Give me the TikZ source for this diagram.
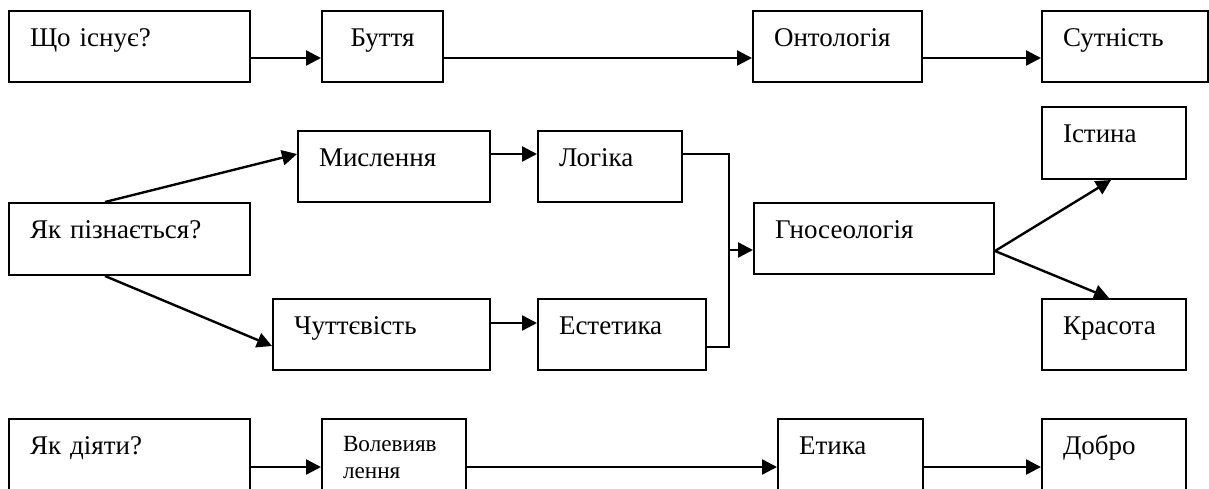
\documentclass[tikz,border=0pt]{standalone}
\usepackage{fontspec}
\setmainfont{Liberation Serif}
\usepackage{tikz}
\usetikzlibrary{arrows.meta,calc}
\usetikzlibrary{positioning}
\tikzstyle{box} = [rectangle, draw=black, line width=1pt, anchor=north west, inner xsep=10.5pt, inner ysep=0pt, text height=17.5pt, text depth=18pt, align=left, font=\fontsize{13.5}{13.5}\selectfont]
\tikzstyle{arr} = [line width=1.2pt, -{Triangle[length=7.5pt,width=7.5pt]}]
\tikzstyle{conn} = [line width=1pt]

\begin{document}
\begin{tikzpicture}[x=0.5pt, y=-0.5pt]
 \useasboundingbox (0,0) rectangle (1209,488);

 \node (q1) [box, text width=99.5pt] at (8,10) {Що існує?};
 \node (bt) [box, text width=39.5pt, align=center] at (321,10) {Буття};
 \node (ont) [box, text width=63.5pt] at (752,10) {Онтологія};
 \node (sut) [box, text width=62pt] at (1041,10) {Сутність};

 \node (q2) [box, text width=99.5pt, text depth=18.5pt] at (8,202) {Як пізнається?};
 \node (mysl) [box, text width=75pt] at (297,130) {Мислення};
 \node (log) [box, text width=51pt] at (537,130) {Логіка};
 \node (chut) [box, text width=87.5pt] at (272,298) {Чуттєвість};
 \node (est) [box, text width=63pt] at (537,298) {Естетика};
 \node (gnos) [box, text width=99pt] at (753,202) {Гносеологія};
 \node (ist) [box, text width=51pt, text depth=18.5pt] at (1041,106) {Істина};
 \node (kras) [box, text width=51pt] at (1041,298) {Красота};

 \node (q3) [box, text width=99.5pt] at (8,418) {Як діяти?};
 \node (vol) [box, text width=51pt, text height=16pt, text depth=19.5pt, font=\fontsize{11.6}{13.5}\selectfont] at (321,418) {Волевияв\\лення};
 \node (et) [box, text width=51.5pt] at (777,418) {Етика};
 \node (dob) [box, text width=51pt] at (1041,418) {Добро};

 \coordinate (jn) at (729,250);

 \draw[arr] ($(q1.east)+(0,11.5)$) -- ($(bt.west)+(0,11.5)$);
 \draw[arr] ($(bt.east)+(0,11.5)$) -- ($(ont.west)+(0,11.5)$);
 \draw[arr] ($(ont.east)+(0,11.5)$) -- ($(sut.west)+(0,11.5)$);

 \draw[arr] ($(q2.north west)+(97,0)$) -- ($(mysl.west)+(0,-12.5)$);
 \draw[arr] ($(q2.south west)+(97,0)$) -- ($(chut.west)+(0,11.5)$);
 \draw[arr] ($(mysl.east)+(0,-12.5)$) -- ($(log.west)+(0,-12.5)$);
 \draw[arr] ($(chut.east)+(0,-11.5)$) -- ($(est.west)+(0,-11.5)$);
 \draw[conn] ($(log.east)+(0,-12.5)$) -| (jn) |- ($(est.east)+(0,12.5)$);
 \draw[arr] (jn) -- (gnos.west |- jn);
 \draw[arr] ($(gnos.east)+(0,12.5)$) -- ($(ist.south)+(-3,0)$);
 \draw[arr] ($(gnos.east)+(0,12.5)$) -- ($(kras.north)+(-5,0)$);

 \draw[arr] ($(q3.east)+(0,12.5)$) -- ($(vol.west)+(0,12.5)$);
 \draw[arr] ($(vol.east)+(0,12.5)$) -- ($(et.west)+(0,12.5)$);
 \draw[arr] ($(et.east)+(0,12.5)$) -- ($(dob.west)+(0,12.5)$);
\end{tikzpicture}
\end{document}
